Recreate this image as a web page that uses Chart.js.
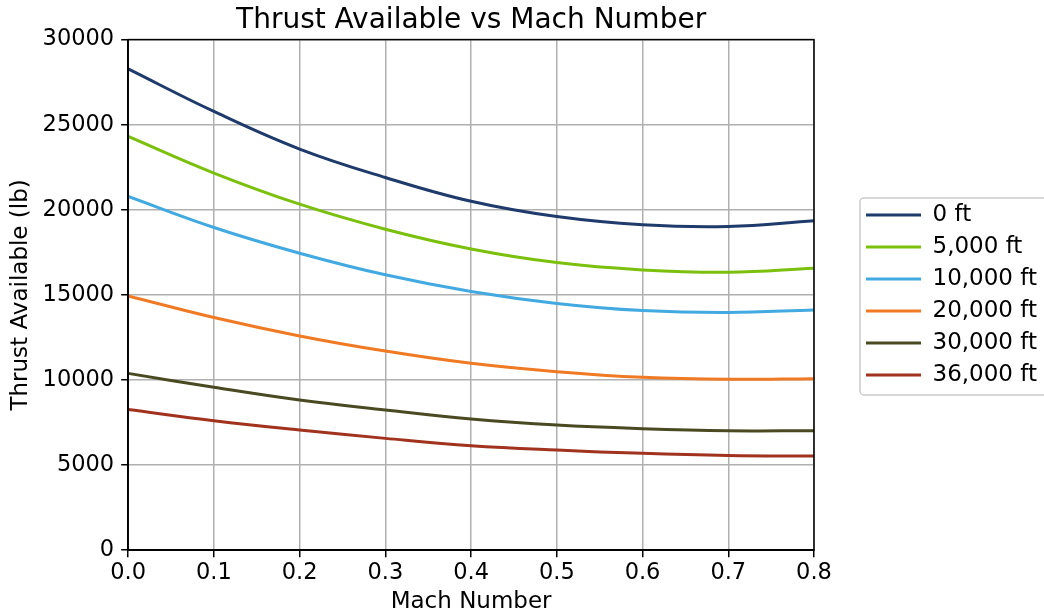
<!DOCTYPE html>
<html>
<head>
<meta charset="utf-8">
<title>Thrust Available vs Mach Number</title>
<script src="https://cdn.jsdelivr.net/npm/chart.js@4.4.0/dist/chart.umd.min.js"></script>
<style>
  html, body { margin: 0; padding: 0; background: #fff; }
  #wrap { width: 1044px; height: 615px; }
</style>
</head>
<body>
<div id="wrap"><canvas id="thrustChart"></canvas></div>
<script>
// datos
const machValues = [0.0, 0.1, 0.2, 0.3, 0.4, 0.5, 0.6, 0.7, 0.8];
const altitudeLabels = ['0 ft', '5,000 ft', '10,000 ft', '20,000 ft', '30,000 ft', '36,000 ft'];
const thrust0 = [28280, 25780, 23570, 21900, 20500, 19600, 19120, 19020, 19350];
const thrust5k = [24310, 22160, 20330, 18860, 17700, 16900, 16470, 16330, 16570];
const thrust10k = [20780, 18960, 17450, 16180, 15200, 14500, 14080, 13960, 14120];
const thrust20k = [14940, 13670, 12590, 11700, 10980, 10490, 10160, 10040, 10080];
const thrust30k = [10390, 9570, 8820, 8240, 7710, 7350, 7140, 7020, 7020];
const thrust36k = [8270, 7610, 7060, 6570, 6140, 5880, 5690, 5570, 5530];
const yTicks = [0, 5000, 10000, 15000, 20000, 25000, 30000];

const seriesValues = [thrust0, thrust5k, thrust10k, thrust20k, thrust30k, thrust36k];
const seriesColors = ['#1f3b6b', '#7cc00e', '#42a9e1', '#f07a24', '#4a4a22', '#a0321e'];

document.addEventListener('DOMContentLoaded', function() {
    initThrustChart();
});

// marco negro de los ejes y caja de la leyenda
const framePlugin = {
    id: 'framePlugin',
    afterDraw(chart) {
        const ctx = chart.ctx;
        const a = chart.chartArea;
        ctx.save();
        ctx.strokeStyle = '#000';
        ctx.lineWidth = 1.5;
        ctx.strokeRect(a.left, a.top, a.right - a.left, a.bottom - a.top);

        const boxes = chart.legend.legendHitBoxes;
        if (boxes && boxes.length) {
            const first = boxes[0];
            const last = boxes[boxes.length - 1];
            const x = first.left - 6;
            const y = first.top + first.height / 2 - 17;
            const y2 = last.top + last.height / 2 + 20;
            ctx.strokeStyle = '#cccccc';
            ctx.lineWidth = 1.5;
            ctx.beginPath();
            ctx.roundRect(x, y, 1060 - x, y2 - y, 4);
            ctx.stroke();
        }
        ctx.restore();
    }
};

function initThrustChart() {
    const ctx = document.getElementById('thrustChart').getContext('2d');

    Chart.defaults.font.family = '"DejaVu Sans", sans-serif';
    Chart.defaults.color = '#000';

    const datasets = altitudeLabels.map((label, i) => ({
        label: label,
        data: machValues.map((m, j) => ({ x: m, y: seriesValues[i][j] })),
        borderColor: seriesColors[i],
        backgroundColor: seriesColors[i],
        borderWidth: 3,
        pointRadius: 0,
        tension: 0.4,
        fill: false
    }));

    new Chart(ctx, {
        type: 'line',
        data: { datasets: datasets },
        options: {
            responsive: true,
            maintainAspectRatio: false,
            animation: false,
            layout: {
                padding: { left: 4, right: -3, top: 0, bottom: 0 }
            },
            plugins: {
                title: {
                    display: true,
                    text: 'Thrust Available vs Mach Number',
                    fullSize: false,
                    font: { size: 28, weight: 'normal' },
                    padding: { top: 4, bottom: 2 }
                },
                legend: {
                    position: 'right',
                    fullSize: false,
                    maxWidth: 300,
                    labels: {
                        boxWidth: 55,
                        boxHeight: 3,
                        padding: 9,
                        font: { size: 23 },
                        generateLabels: function(chart) {
                            const items = Chart.defaults.plugins.legend.labels.generateLabels(chart);
                            items.forEach(item => { item.lineWidth = 0; });
                            return items;
                        }
                    }
                },
                tooltip: { enabled: false }
            },
            scales: {
                x: {
                    type: 'linear',
                    min: 0,
                    max: 0.8,
                    ticks: {
                        stepSize: 0.1,
                        padding: 5,
                        font: { size: 22.5, lineHeight: 1.0 },
                        callback: v => v.toFixed(1)
                    },
                    grid: {
                        color: '#b0b0b0',
                        lineWidth: 1.5,
                        tickColor: '#000',
                        tickLength: 7
                    },
                    border: { color: '#000', width: 1.5 },
                    title: {
                        display: true,
                        text: 'Mach Number',
                        font: { size: 23, lineHeight: 1.1 },
                        padding: { top: 0, bottom: 0 }
                    }
                },
                y: {
                    min: 0,
                    max: 30000,
                    afterBuildTicks: scale => {
                        scale.ticks = yTicks.map(v => ({ value: v }));
                    },
                    ticks: {
                        padding: 7,
                        font: { size: 22.5 },
                        callback: v => String(v)
                    },
                    grid: {
                        color: '#b0b0b0',
                        lineWidth: 1.5,
                        tickColor: '#000',
                        tickLength: 7
                    },
                    border: { color: '#000', width: 1.5 },
                    title: {
                        display: true,
                        text: 'Thrust Available (lb)',
                        font: { size: 23 },
                        padding: { top: 3, bottom: 1 }
                    }
                },
                gap: {
                    type: 'linear',
                    position: 'right',
                    display: true,
                    grid: { display: false },
                    ticks: { display: false },
                    border: { display: false },
                    afterFit: scale => { scale.width = 43; }
                }
            }
        },
        plugins: [framePlugin]
    });
}
</script>
</body>
</html>
